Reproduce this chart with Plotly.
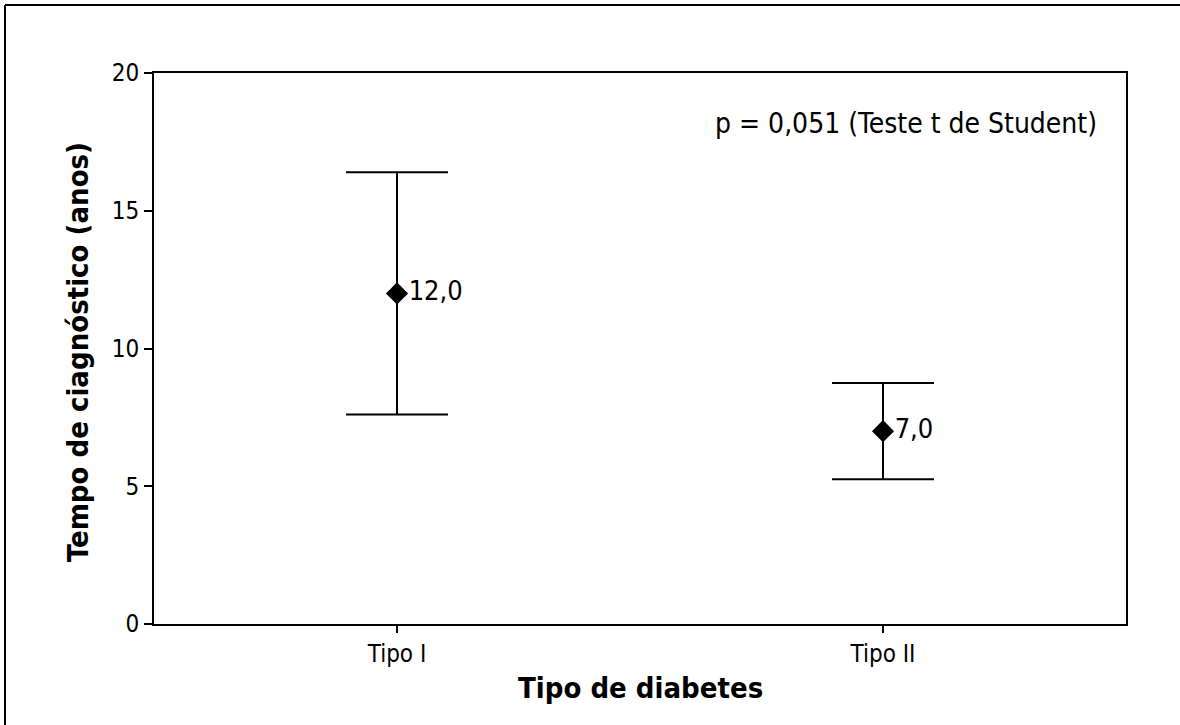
import plotly.graph_objects as go

categories = ["Tipo I", "Tipo II"]
means = [12.0, 7.0]
err_upper = [4.4, 1.75]
err_lower = [4.4, 1.75]
labels = ["12,0", "7,0"]
y_ticks = [0, 5, 10, 15, 20]

FONT = "DejaVu Sans Condensed"
PL, PR, PT, PB = 154, 1126, 73, 624
PW, PH = PR - PL, PB - PT

fig = go.Figure()
fig.add_trace(go.Scatter(
    x=[0, 1], y=means,
    mode="markers+text",
    text=labels,
    textposition="middle right",
    textfont=dict(family=FONT, size=27, color="black"),
    marker=dict(symbol="diamond", size=17, color="black"),
    error_y=dict(type="data", symmetric=False, array=err_upper, arrayminus=err_lower,
                 color="black", thickness=2, width=51),
    showlegend=False,
    cliponaxis=False,
))

fig.update_layout(
    width=1180, height=725,
    margin=dict(l=PL, r=1180 - PR, t=PT, b=725 - PB),
    paper_bgcolor="white", plot_bgcolor="white",
    font=dict(family=FONT, size=24, color="black"),
    xaxis=dict(range=[-0.5, 1.5], tickvals=[0, 1], ticktext=categories,
               showline=True, linecolor="black", linewidth=2, mirror=True,
               ticks="outside", ticklen=7, tickwidth=1.5, tickcolor="black",
               showgrid=False, zeroline=False, tickfont=dict(size=24)),
    yaxis=dict(range=[0, 20], tickvals=y_ticks,
               showline=True, linecolor="black", linewidth=2, mirror=True,
               ticks="outside", ticklen=8, tickwidth=1.5, tickcolor="black",
               showgrid=False, zeroline=False, tickfont=dict(size=24)),
)

fig.add_annotation(text="<b>Tempo de ciagnóstico (anos)</b>", xref="paper", yref="paper",
                   x=(78 - PL) / PW, y=(PB - 352) / PH, showarrow=False, textangle=-90,
                   font=dict(size=29), xanchor="center", yanchor="middle")
fig.add_annotation(text="<b>Tipo de diabetes</b>", xref="paper", yref="paper",
                   x=0.5, y=-(688 - PB) / PH, showarrow=False,
                   font=dict(size=29), xanchor="center", yanchor="middle")
fig.add_annotation(text="p = 0,051 (Teste t de Student)", xref="paper", yref="paper",
                   x=(713 - PL) / PW, y=(PB - 123) / PH, showarrow=False,
                   font=dict(size=28), xanchor="left", yanchor="middle")

# outer frame
fig.add_shape(type="line", xref="paper", yref="paper",
              x0=(5 - PL) / PW, x1=(1185 - PL) / PW, y0=(PB - 5) / PH, y1=(PB - 5) / PH,
              line=dict(color="black", width=2))
fig.add_shape(type="line", xref="paper", yref="paper",
              x0=(5 - PL) / PW, x1=(5 - PL) / PW, y0=(PB - 5) / PH, y1=(PB - 730) / PH,
              line=dict(color="black", width=2))

fig.write_html("out.html", config={"displayModeBar": False},
               post_script="document.body.style.margin='0';document.body.style.overflow='hidden';")
